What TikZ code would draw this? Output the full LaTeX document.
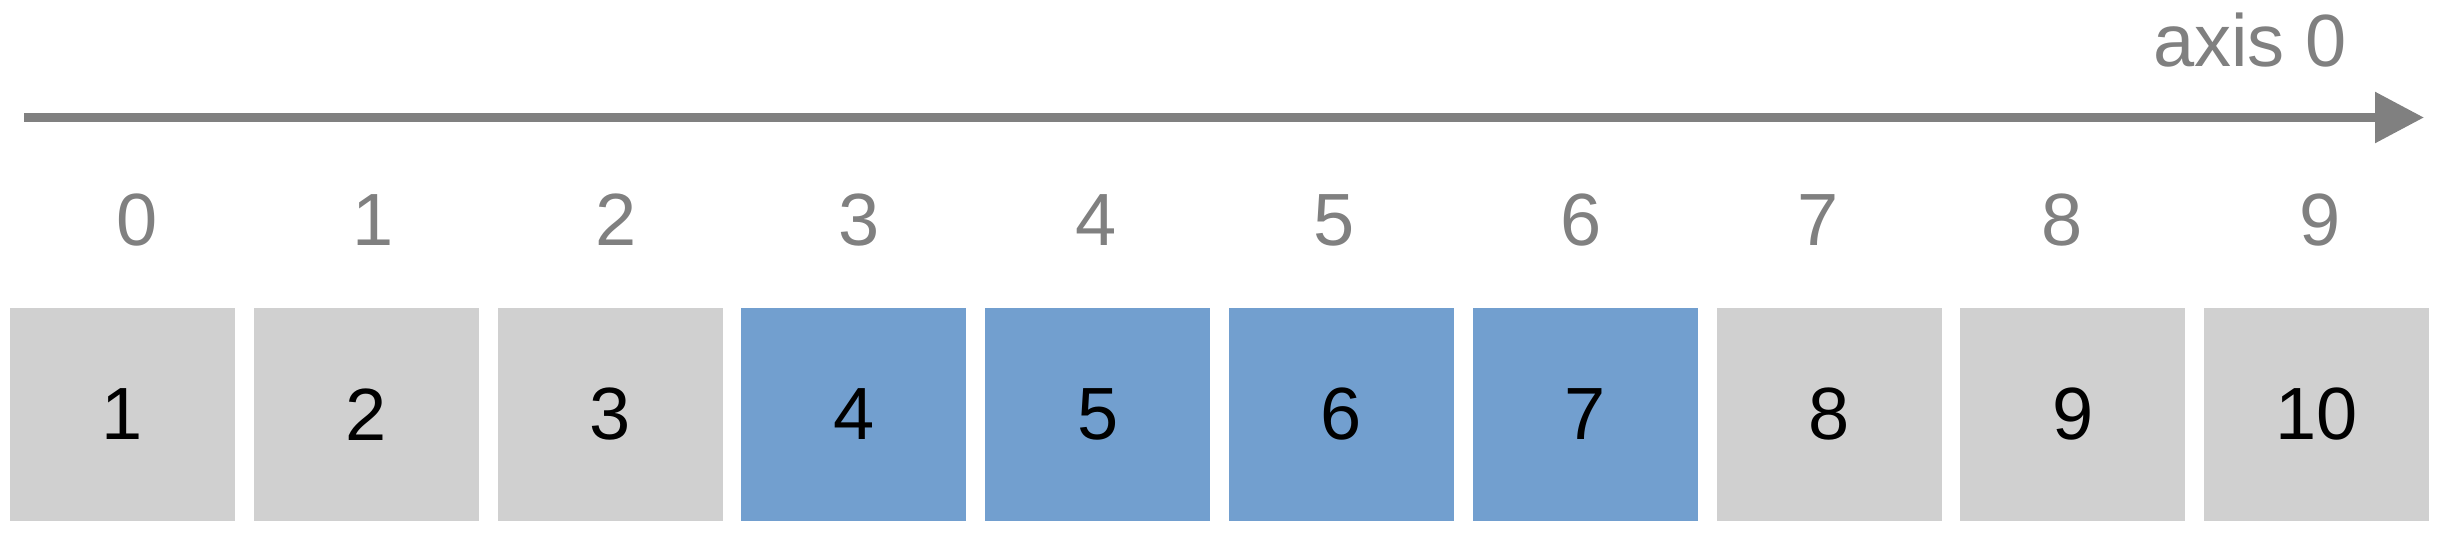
\documentclass[tikz,border=0pt]{standalone}
\usepackage{fontspec}
\setmainfont{Liberation Sans}
\usetikzlibrary{arrows.meta}
\definecolor{axisgray}{HTML}{808080}
\definecolor{cellgray}{HTML}{D0D0D0}
\definecolor{cellblue}{HTML}{729FCF}
\begin{document}
\begin{tikzpicture}[x=0.5pt,y=-0.5pt,
  every node/.style={font=\fontsize{37}{44}\selectfont},
  cell/.style={minimum width=112.5pt, minimum height=106.5pt, inner sep=0pt, text=black},
  idx/.style={text=axisgray, anchor=base, inner sep=0pt}]
\useasboundingbox (0,0) rectangle (2438,532);
\coordinate (axstart) at (24,117.5);
\coordinate (axend) at (2424,117.5);
\draw[axisgray, line width=4.5pt, -{Triangle[length=24.5pt,width=24.5pt]}] (axstart) -- (axend);
\node[idx, anchor=base east] (axlabel) at (2347,66) {axis 0};
\foreach \i/\c in {0/cellgray,1/cellgray,2/cellgray,3/cellblue,4/cellblue,5/cellblue,6/cellblue,7/cellgray,8/cellgray,9/cellgray}{
  \pgfmathtruncatemacro{\n}{\i+1}
  \node[cell, fill=\c] (c\i) at ({122.5+243.8*\i},414.5) {\n};
}
\foreach \i/\x in {0/137,1/373,2/616,3/859,4/1096,5/1334,6/1581,7/1818,8/2062,9/2320}{
  \node[idx] (l\i) at (\x,245) {\i};
}
\end{tikzpicture}
\end{document}
